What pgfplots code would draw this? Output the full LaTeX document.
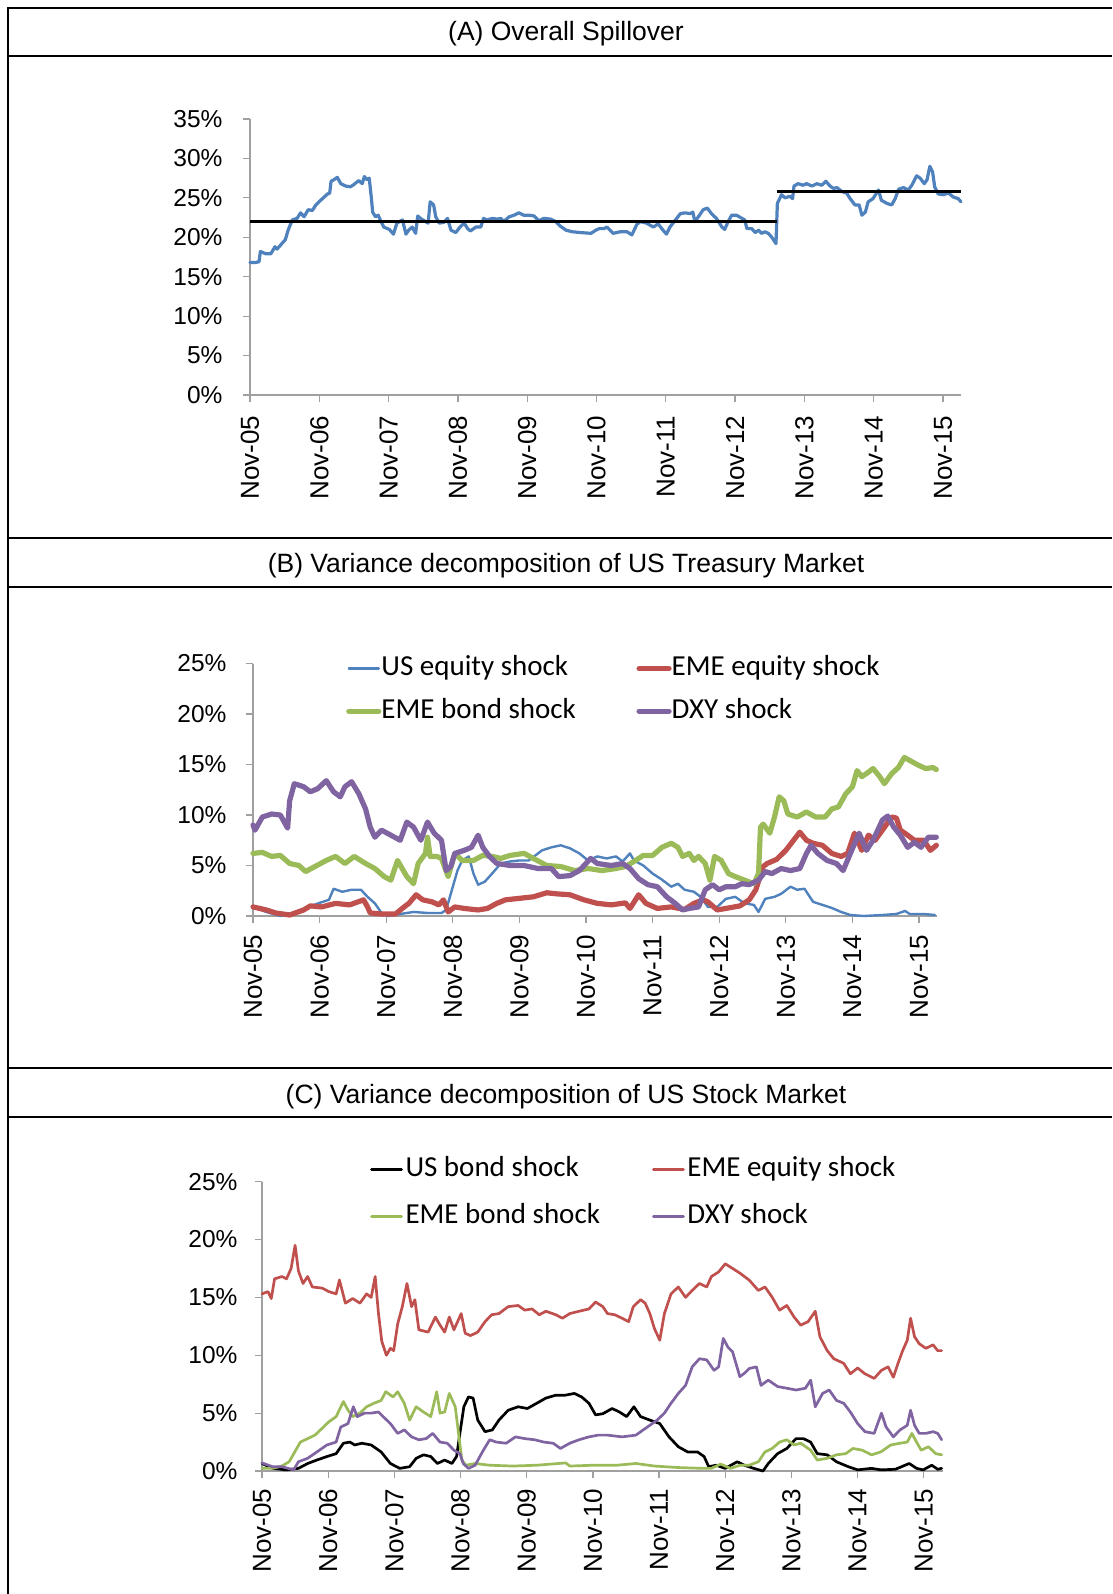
\documentclass[border=0pt]{standalone}
\usepackage{fontspec}
\setmainfont{Liberation Sans}
\newfontfamily\calibri{Carlito}
\usepackage{pgfplots}
\pgfplotsset{compat=1.18}
\definecolor{xlblue}{HTML}{4F81BD}
\definecolor{xlred}{HTML}{C0504D}
\definecolor{xlgreen}{HTML}{9BBB59}
\definecolor{xlpurple}{HTML}{8064A2}
\definecolor{axgray}{HTML}{A0A0A0}
\pgfplotsset{
  xlstyle/.style={
    scale only axis,
    axis x line=bottom, axis y line=left,
    axis line style={-, draw=axgray, line width=1.3pt},
    tick align=outside, major tick length=7pt,
    tick style={draw=axgray, line width=1.2pt},
    xmin=0, xtick={0,...,10},
    xticklabels={Nov-05,Nov-06,Nov-07,Nov-08,Nov-09,Nov-10,Nov-11,Nov-12,Nov-13,Nov-14,Nov-15},
    xticklabel style={rotate=90, anchor=east, font=\fontsize{26}{30}\selectfont},
    yticklabel style={font=\fontsize{24.5}{28}\selectfont},
    ymin=0, clip=false,
    every axis plot/.append style={line join=round, line cap=round},
    legend columns=2, legend cell align=left,
    legend image code/.code={\draw[##1] (0pt,0pt) -- (30pt,0pt);},
  }
}
\begin{document}
\begin{tikzpicture}[x=1pt,y=1pt]
\path[use as bounding box] (0,0) rectangle (1112,-1594);
% frame
\draw[line width=2pt] (8,-1594) -- (8,-8) -- (1112,-8);
\draw[line width=2pt] (8,-56) -- (1112,-56);
\draw[line width=2pt] (8,-538) -- (1112,-538);
\draw[line width=2pt] (8,-586.5) -- (1112,-586.5);
\draw[line width=2pt] (8,-1068) -- (1112,-1068);
\draw[line width=2pt] (8,-1117) -- (1112,-1117);
\node at (566,-34) {\fontsize{26.5}{30}\selectfont (A) Overall Spillover};
\node at (566,-566) {\fontsize{26.5}{30}\selectfont (B) Variance decomposition of US Treasury Market};
\node at (566,-1097) {\fontsize{26.5}{30}\selectfont (C) Variance decomposition of US Stock Market};

% ---------------- Panel A
\begin{axis}[xlstyle, at={(250pt,-395pt)}, anchor=south west,
  width=711pt, height=276pt, xmax=10.26, ymax=35,
  xticklabel shift=10pt, yticklabel shift=17pt,
  ytick={0,5,...,35}, yticklabels={0\%,5\%,10\%,15\%,20\%,25\%,30\%,35\%}]
\addplot[xlblue, line width=3.2pt] coordinates {(0,16.8)(0.08,16.8)(0.13,16.9)(0.15,18.2)(0.23,17.9)(0.3,17.9)(0.36,18.8)(0.39,18.5)(0.45,19.1)(0.51,19.7)(0.55,20.9)(0.61,22.2)(0.68,22.4)(0.73,23.1)(0.78,22.6)(0.84,23.5)(0.9,23.4)(0.95,24.1)(1.02,24.7)(1.12,25.5)(1.15,25.6)(1.17,27.1)(1.21,27.3)(1.26,27.6)(1.31,26.8)(1.38,26.5)(1.45,26.4)(1.5,26.7)(1.57,27.2)(1.62,26.8)(1.65,27.7)(1.69,27.3)(1.72,27.5)(1.75,25.1)(1.77,23.2)(1.81,22.6)(1.85,22.8)(1.89,22.0)(1.93,21.3)(2.01,21.0)(2.07,20.4)(2.12,21.8)(2.16,22.0)(2.2,22.2)(2.25,20.4)(2.29,20.9)(2.34,21.3)(2.39,20.5)(2.42,22.7)(2.46,22.4)(2.53,22.0)(2.57,21.8)(2.6,24.5)(2.65,24.1)(2.68,22.6)(2.73,21.8)(2.8,21.9)(2.85,22.4)(2.9,20.9)(2.97,20.6)(3.03,21.3)(3.09,21.8)(3.14,21.1)(3.18,20.8)(3.26,21.3)(3.33,21.3)(3.37,22.4)(3.42,22.2)(3.5,22.4)(3.57,22.3)(3.62,22.4)(3.66,22.0)(3.74,22.6)(3.81,22.8)(3.88,23.1)(3.95,22.8)(4.03,22.8)(4.1,22.7)(4.17,22.1)(4.24,22.4)(4.34,22.3)(4.41,22.0)(4.48,21.4)(4.56,20.9)(4.65,20.7)(4.77,20.6)(4.92,20.5)(4.99,20.9)(5.04,21.1)(5.11,21.1)(5.15,21.3)(5.24,20.5)(5.34,20.7)(5.44,20.7)(5.51,20.3)(5.58,21.6)(5.63,22.0)(5.72,21.8)(5.82,21.3)(5.89,21.7)(5.96,20.9)(6.01,20.4)(6.06,21.3)(6.13,22.1)(6.21,23.0)(6.28,23.1)(6.35,23.0)(6.39,23.2)(6.42,22.0)(6.47,22.6)(6.54,23.5)(6.6,23.7)(6.66,23.0)(6.73,22.4)(6.81,21.3)(6.85,21.0)(6.9,22.0)(6.95,22.8)(7.02,22.8)(7.1,22.4)(7.14,22.2)(7.17,21.1)(7.24,21.1)(7.29,20.6)(7.34,20.9)(7.38,20.5)(7.43,20.7)(7.48,20.5)(7.53,20.0)(7.59,19.2)(7.61,24.3)(7.67,25.4)(7.72,25.0)(7.79,25.2)(7.83,24.9)(7.85,26.5)(7.91,26.8)(7.98,26.6)(8.03,26.8)(8.11,26.5)(8.18,26.8)(8.25,26.6)(8.31,27.1)(8.37,26.5)(8.42,26.2)(8.47,26.3)(8.54,25.8)(8.61,25.6)(8.66,24.9)(8.73,24.1)(8.79,24.1)(8.83,22.8)(8.88,23.2)(8.92,24.5)(8.99,24.9)(9.07,26.0)(9.11,24.7)(9.19,24.3)(9.26,24.1)(9.31,24.9)(9.36,26.1)(9.43,26.3)(9.5,26.0)(9.55,26.6)(9.62,27.8)(9.67,27.5)(9.73,26.8)(9.77,27.3)(9.81,29.0)(9.85,28.3)(9.88,26.4)(9.93,25.5)(10.0,25.4)(10.08,25.6)(10.15,25.1)(10.22,24.9)(10.26,24.5)};
\addplot[black, line width=3pt, line cap=butt] coordinates {(0,22.0)(7.6,22.0)};
\addplot[black, line width=3pt, line cap=butt] coordinates {(7.6,25.75)(10.26,25.75)};
\end{axis}

% ---------------- Panel B
\begin{axis}[xlstyle, at={(253pt,-916pt)}, anchor=south west,
  width=684pt, height=252.5pt, xmax=10.27, ymax=25,
  xticklabel shift=8pt, yticklabel shift=16pt,
  ytick={0,5,...,25}, yticklabels={0\%,5\%,10\%,15\%,20\%,25\%},
  legend style={at={(0.136,1.032)}, anchor=north west, draw=none, fill=none,
    font=\calibri\fontsize{29}{32}\selectfont, inner sep=0pt, row sep=16.5pt,
    nodes={inner sep=0pt, text height=20pt, text depth=6pt},
    /tikz/every odd column/.append style={column sep=0pt},
    /tikz/every even column/.append style={column sep=60.5pt}}]
\addplot[xlblue, line width=2.4pt] coordinates {(0,0.9)(0.2,0.4)(0.41,0)(0.62,0.3)(0.83,0.9)(1.0,1.3)(1.14,1.6)(1.21,2.7)(1.34,2.4)(1.48,2.6)(1.62,2.6)(1.72,1.9)(1.83,1.25)(1.93,0.3)(2.03,0)(2.21,0.2)(2.41,0.4)(2.62,0.3)(2.83,0.3)(2.9,0.6)(3.0,2.9)(3.07,4.5)(3.14,5.5)(3.24,5.9)(3.31,4.2)(3.38,3.1)(3.48,3.4)(3.59,4.2)(3.72,5.2)(3.86,5.4)(4.0,5.5)(4.14,5.5)(4.34,6.5)(4.48,6.8)(4.62,7.0)(4.76,6.7)(4.9,6.2)(5.03,5.5)(5.17,5.9)(5.31,5.7)(5.45,5.9)(5.55,5.4)(5.66,6.2)(5.72,5.5)(5.86,5.0)(6.0,4.2)(6.14,3.6)(6.28,2.9)(6.38,3.2)(6.48,2.6)(6.62,2.4)(6.72,1.9)(6.83,0.9)(6.97,0.9)(7.1,1.7)(7.24,1.9)(7.38,1.25)(7.52,1.1)(7.59,0.4)(7.69,1.7)(7.83,1.9)(7.93,2.2)(8.07,2.9)(8.17,2.6)(8.28,2.7)(8.41,1.4)(8.55,1.1)(8.69,0.8)(8.83,0.4)(8.97,0.1)(9.17,0)(9.45,0.1)(9.66,0.2)(9.79,0.5)(9.86,0.2)(10.07,0.2)(10.24,0.1)};
\addlegendentry{US equity shock}
\addplot[xlred, line width=5.2pt] coordinates {(0,0.9)(0.2,0.6)(0.34,0.3)(0.55,0.1)(0.76,0.6)(0.86,1.0)(1.03,0.9)(1.24,1.25)(1.45,1.1)(1.66,1.6)(1.72,0.9)(1.76,0.3)(1.93,0.2)(2.14,0.2)(2.24,0.75)(2.34,1.25)(2.45,2.1)(2.55,1.6)(2.69,1.4)(2.79,1.1)(2.86,1.6)(2.93,0.4)(3.03,0.9)(3.17,0.75)(3.38,0.6)(3.52,0.75)(3.66,1.25)(3.79,1.6)(4.0,1.75)(4.21,1.9)(4.41,2.3)(4.55,2.2)(4.76,2.1)(4.97,1.6)(5.17,1.25)(5.38,1.1)(5.59,1.3)(5.66,0.75)(5.79,2.1)(5.9,1.25)(6.07,0.75)(6.28,0.9)(6.48,0.65)(6.62,1.25)(6.76,1.6)(6.83,1.4)(6.97,0.6)(7.1,0.75)(7.31,1.0)(7.45,1.6)(7.55,2.6)(7.66,4.9)(7.72,5.2)(7.86,5.6)(8.0,6.5)(8.14,7.7)(8.21,8.3)(8.31,7.5)(8.41,7.2)(8.55,7.0)(8.69,6.2)(8.83,5.9)(8.93,6.2)(9.03,8.2)(9.14,6.5)(9.24,8.0)(9.34,7.5)(9.45,8.5)(9.59,9.8)(9.66,9.7)(9.72,8.5)(9.83,8.0)(9.93,7.5)(10.07,7.5)(10.17,6.5)(10.26,7.0)};
\addlegendentry{EME equity shock}
\addplot[xlgreen, line width=5.2pt] coordinates {(0,6.2)(0.14,6.3)(0.28,5.9)(0.41,6.0)(0.55,5.2)(0.69,5.0)(0.79,4.4)(0.93,4.9)(1.1,5.5)(1.24,5.9)(1.38,5.2)(1.52,5.9)(1.69,5.2)(1.83,4.7)(1.97,3.9)(2.07,3.55)(2.17,5.5)(2.31,3.9)(2.41,3.2)(2.48,5.2)(2.59,6.2)(2.62,7.8)(2.66,5.9)(2.76,5.9)(2.83,5.7)(2.93,3.9)(3.03,6.2)(3.14,5.5)(3.31,5.5)(3.45,6.0)(3.59,5.9)(3.72,5.7)(3.86,6.0)(4.07,6.2)(4.21,5.7)(4.41,5.0)(4.62,4.9)(4.83,4.5)(5.03,4.7)(5.24,4.5)(5.45,4.7)(5.59,4.9)(5.72,5.4)(5.86,6.0)(6.0,6.0)(6.14,6.8)(6.28,7.2)(6.38,6.8)(6.45,5.9)(6.55,6.2)(6.62,5.5)(6.69,5.9)(6.79,5.2)(6.86,3.55)(6.93,5.9)(7.03,5.5)(7.14,4.2)(7.24,3.9)(7.38,3.55)(7.52,3.2)(7.59,4.2)(7.62,8.8)(7.66,9.1)(7.76,8.2)(7.83,9.8)(7.9,11.8)(7.97,11.4)(8.03,10.1)(8.17,9.8)(8.31,10.3)(8.45,9.8)(8.59,9.8)(8.69,10.6)(8.79,10.8)(8.9,12.1)(9.0,12.8)(9.07,14.4)(9.14,13.8)(9.21,14.1)(9.31,14.6)(9.41,13.8)(9.48,13.1)(9.59,14.1)(9.69,14.7)(9.78,15.7)(9.86,15.4)(10.0,14.9)(10.1,14.6)(10.21,14.7)(10.26,14.5)};
\addlegendentry{EME bond shock}
\addplot[xlpurple, line width=5.2pt] coordinates {(0,9.0)(0.03,8.5)(0.14,9.8)(0.28,10.1)(0.41,10.0)(0.52,8.7)(0.55,11.4)(0.62,13.1)(0.76,12.8)(0.86,12.3)(0.97,12.6)(1.1,13.4)(1.21,12.3)(1.31,11.8)(1.38,12.8)(1.48,13.3)(1.59,12.1)(1.69,10.6)(1.76,8.8)(1.83,7.8)(1.93,8.5)(2.07,8.0)(2.21,7.5)(2.31,9.3)(2.41,8.8)(2.52,7.5)(2.62,9.3)(2.72,8.2)(2.83,7.5)(2.9,4.5)(2.97,4.9)(3.03,6.2)(3.17,6.5)(3.28,6.8)(3.38,8.0)(3.45,6.8)(3.55,5.9)(3.66,5.2)(3.86,5.0)(4.07,5.0)(4.28,4.7)(4.48,4.7)(4.59,3.9)(4.76,4.0)(4.9,4.5)(5.07,5.7)(5.17,5.2)(5.38,5.0)(5.55,5.2)(5.66,4.7)(5.79,3.7)(5.93,3.1)(6.07,2.9)(6.21,1.9)(6.34,1.25)(6.45,0.6)(6.55,0.75)(6.69,0.9)(6.79,2.6)(6.9,3.1)(7.0,2.6)(7.1,2.9)(7.24,2.9)(7.34,3.2)(7.45,3.1)(7.59,3.55)(7.69,4.4)(7.79,4.2)(7.93,4.7)(8.07,4.5)(8.21,4.7)(8.31,6.2)(8.38,7.0)(8.48,6.2)(8.62,5.5)(8.76,5.2)(8.86,4.5)(8.97,6.2)(9.1,8.2)(9.21,6.5)(9.31,7.5)(9.45,9.5)(9.53,9.9)(9.62,8.8)(9.72,8.0)(9.83,6.8)(9.93,7.3)(10.03,6.8)(10.14,7.8)(10.26,7.8)};
\addlegendentry{DXY shock}
\end{axis}

% ---------------- Panel C
\begin{axis}[xlstyle, at={(262pt,-1471pt)}, anchor=south west,
  width=681pt, height=289.4pt, xmax=10.29, ymax=25,
  xticklabel shift=7pt, yticklabel shift=14pt,
  ytick={0,5,...,25}, yticklabels={0\%,5\%,10\%,15\%,20\%,25\%},
  legend style={at={(0.1586,1.087)}, anchor=north west, draw=none, fill=none,
    font=\calibri\fontsize{29}{32}\selectfont, inner sep=0pt, row sep=21pt,
    nodes={inner sep=0pt, text height=20pt, text depth=6pt},
    /tikz/every odd column/.append style={column sep=2.6pt},
    /tikz/every even column/.append style={column sep=52pt}}]
\addplot[black, line width=2.7pt] coordinates {(0,0.65)(0.16,0.23)(0.37,0.1)(0.55,0.23)(0.69,0.65)(0.83,0.95)(0.98,1.25)(1.12,1.5)(1.23,2.4)(1.33,2.5)(1.4,2.25)(1.51,2.4)(1.65,2.25)(1.8,1.65)(1.94,0.65)(2.08,0.23)(2.23,0.37)(2.33,1.1)(2.44,1.4)(2.55,1.25)(2.65,0.65)(2.76,0.95)(2.87,0.65)(2.94,1.25)(2.99,3.25)(3.05,5.55)(3.12,6.4)(3.19,6.3)(3.26,4.4)(3.37,3.4)(3.48,3.55)(3.58,4.4)(3.72,5.25)(3.87,5.55)(4.01,5.4)(4.15,5.85)(4.29,6.3)(4.44,6.55)(4.58,6.55)(4.72,6.7)(4.83,6.4)(4.94,5.85)(5.04,4.85)(5.15,4.95)(5.29,5.4)(5.4,5.1)(5.51,4.7)(5.62,5.55)(5.72,4.7)(5.86,4.4)(6.01,4.1)(6.15,2.95)(6.29,2.1)(6.43,1.65)(6.58,1.65)(6.68,1.25)(6.75,0.37)(6.86,0.5)(7.0,0.23)(7.18,0.8)(7.29,0.5)(7.43,0.23)(7.57,0)(7.65,0.65)(7.79,1.5)(7.93,1.95)(8.07,2.8)(8.18,2.8)(8.29,2.5)(8.39,1.5)(8.54,1.4)(8.68,0.8)(8.86,0.37)(9.0,0.1)(9.21,0.23)(9.35,0.1)(9.57,0.15)(9.78,0.65)(9.89,0.23)(9.99,0.1)(10.12,0.5)(10.21,0.15)(10.27,0.23)};
\addlegendentry{US bond shock}
\addplot[xlred, line width=2.7pt] coordinates {(0,15.3)(0.09,15.5)(0.14,14.9)(0.19,16.6)(0.3,16.8)(0.37,16.6)(0.44,17.5)(0.5,19.5)(0.55,17.3)(0.62,16.2)(0.69,16.8)(0.76,15.9)(0.91,15.8)(1.01,15.5)(1.12,15.3)(1.17,16.5)(1.26,14.5)(1.37,14.9)(1.48,14.5)(1.58,15.3)(1.65,15.0)(1.71,16.8)(1.76,13.6)(1.81,11.2)(1.88,10.0)(1.94,10.6)(1.99,10.4)(2.05,12.7)(2.12,14.2)(2.19,16.2)(2.26,14.2)(2.31,14.8)(2.37,12.2)(2.51,12.0)(2.62,13.3)(2.69,12.6)(2.76,12.0)(2.83,13.3)(2.9,12.2)(3.01,13.6)(3.07,11.9)(3.15,11.7)(3.26,12.0)(3.37,12.9)(3.47,13.5)(3.58,13.6)(3.72,14.2)(3.87,14.3)(3.97,13.9)(4.08,14.0)(4.19,13.5)(4.29,13.8)(4.44,13.5)(4.54,13.2)(4.65,13.6)(4.79,13.8)(4.94,14.0)(5.04,14.6)(5.15,14.2)(5.22,13.6)(5.33,13.5)(5.44,13.2)(5.54,12.9)(5.61,14.2)(5.72,14.8)(5.79,14.5)(5.86,13.6)(5.93,12.3)(6.01,11.3)(6.08,13.6)(6.18,15.3)(6.29,15.9)(6.4,15.0)(6.5,15.6)(6.61,16.2)(6.72,15.9)(6.79,16.8)(6.9,17.2)(7.0,17.9)(7.11,17.5)(7.22,17.1)(7.36,16.5)(7.5,15.6)(7.6,15.9)(7.71,15.0)(7.82,13.9)(7.93,14.3)(8.04,13.3)(8.14,12.6)(8.25,12.9)(8.36,13.8)(8.43,11.6)(8.54,10.4)(8.64,9.7)(8.79,9.3)(8.89,8.4)(9.0,8.9)(9.11,8.4)(9.25,8.0)(9.36,8.7)(9.46,9.0)(9.54,8.1)(9.61,9.3)(9.68,10.4)(9.75,11.3)(9.8,13.2)(9.86,11.6)(9.93,11.0)(10.03,10.6)(10.14,10.9)(10.21,10.4)(10.27,10.4)};
\addlegendentry{EME equity shock}
\addplot[xlgreen, line width=2.7pt] coordinates {(0,0.23)(0.16,0.23)(0.3,0.43)(0.41,0.8)(0.48,1.5)(0.58,2.5)(0.69,2.8)(0.8,3.1)(0.91,3.7)(1.01,4.25)(1.12,4.7)(1.23,6.0)(1.3,5.25)(1.37,4.7)(1.48,5.0)(1.58,5.55)(1.69,5.85)(1.8,6.1)(1.87,6.85)(1.98,6.4)(2.05,6.85)(2.15,5.85)(2.23,4.4)(2.33,5.55)(2.44,5.1)(2.55,4.7)(2.64,6.85)(2.69,5.0)(2.76,5.1)(2.83,6.7)(2.92,5.55)(2.97,3.25)(3.02,0.95)(3.08,0.5)(3.22,0.65)(3.44,0.5)(3.79,0.43)(4.15,0.5)(4.59,0.7)(4.65,0.43)(5.01,0.5)(5.36,0.5)(5.65,0.65)(5.93,0.43)(6.29,0.3)(6.65,0.23)(6.79,0.23)(6.93,0.6)(7.08,0.23)(7.22,0.5)(7.36,0.5)(7.5,0.8)(7.6,1.65)(7.71,1.95)(7.82,2.5)(7.93,2.7)(8.04,2.25)(8.14,2.4)(8.29,1.8)(8.39,0.95)(8.54,1.1)(8.68,1.4)(8.82,1.5)(8.93,1.95)(9.07,1.8)(9.21,1.4)(9.35,1.65)(9.5,2.25)(9.64,2.4)(9.75,2.5)(9.82,3.25)(9.89,2.5)(9.96,1.8)(10.07,2.1)(10.18,1.5)(10.27,1.4)};
\addlegendentry{EME bond shock}
\addplot[xlpurple, line width=2.7pt] coordinates {(0,0.7)(0.16,0.37)(0.3,0.37)(0.48,0.1)(0.55,0.8)(0.69,1.1)(0.83,1.65)(0.98,2.25)(1.12,2.5)(1.19,3.8)(1.3,4.1)(1.38,5.55)(1.44,4.7)(1.55,5.0)(1.65,5.0)(1.76,5.1)(1.83,4.7)(1.94,4.1)(2.05,3.25)(2.15,3.55)(2.26,2.95)(2.37,2.7)(2.48,2.8)(2.58,3.25)(2.69,2.5)(2.8,2.4)(2.9,1.8)(2.99,1.5)(3.04,0.65)(3.12,0.23)(3.22,0.5)(3.33,1.65)(3.44,2.7)(3.54,2.5)(3.69,2.4)(3.83,2.95)(3.97,2.8)(4.12,2.7)(4.26,2.5)(4.4,2.4)(4.51,1.95)(4.65,2.4)(4.79,2.7)(4.94,2.95)(5.08,3.1)(5.22,3.1)(5.44,2.95)(5.65,3.1)(5.76,3.55)(5.86,3.95)(5.97,4.4)(6.08,5.0)(6.18,5.85)(6.29,6.7)(6.4,7.4)(6.5,9.0)(6.61,9.7)(6.72,9.6)(6.83,8.7)(6.9,9.0)(6.97,11.45)(7.04,10.7)(7.11,10.3)(7.22,8.15)(7.29,8.45)(7.36,8.85)(7.47,9.0)(7.54,7.4)(7.65,7.85)(7.79,7.3)(7.93,7.15)(8.07,7.0)(8.21,7.15)(8.29,7.85)(8.36,5.55)(8.47,6.7)(8.57,7.0)(8.68,6.1)(8.79,5.85)(8.89,5.1)(9.0,4.1)(9.11,3.4)(9.25,3.25)(9.36,5.0)(9.43,3.8)(9.54,2.95)(9.64,3.55)(9.75,3.95)(9.8,5.25)(9.86,3.95)(9.93,3.25)(10.03,3.25)(10.14,3.4)(10.21,3.25)(10.27,2.7)};
\addlegendentry{DXY shock}
\end{axis}
\end{tikzpicture}
\end{document}
